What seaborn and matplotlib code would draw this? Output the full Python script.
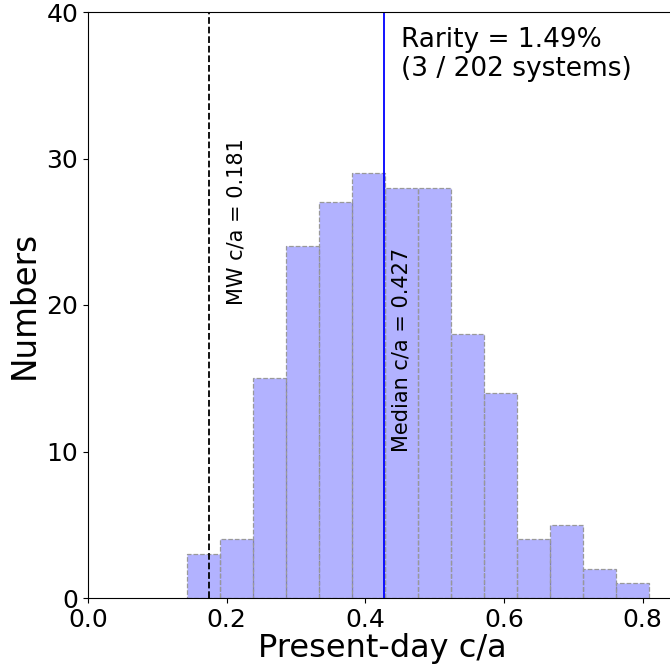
import matplotlib
matplotlib.use("Agg")
import matplotlib.pyplot as plt
import seaborn as sns
import numpy as np

# Histogram data
bin_start = 0.1423
bin_width = 0.04766
counts = [3, 4, 15, 24, 27, 29, 28, 28, 18, 14, 4, 5, 2, 1]
mw_value = 0.181
mw_line_x = 0.175
median_value = 0.427
rarity_text = "Rarity = 1.49%\n(3 / 202 systems)"

edges = [bin_start + i * bin_width for i in range(len(counts) + 1)]
centers = [(edges[i] + edges[i + 1]) / 2 for i in range(len(counts))]

fig = plt.figure(figsize=(6.70, 6.66), dpi=100)
ax = fig.add_axes([88 / 670, 68 / 666, 589.3 / 670, 586 / 666])

sns.histplot(x=centers, weights=counts, bins=edges, ax=ax,
             facecolor=(0.0, 0.0, 1.0, 0.3), edgecolor="#999999",
             linestyle="--", linewidth=0.9, alpha=None)

ax.axvline(mw_line_x, color="black", linestyle="--", linewidth=1.3)
ax.axvline(median_value, color="blue", linestyle="-", linewidth=1.3)

ax.text(0.2135, 20, f"MW c/a = {mw_value}", rotation=90, ha="center",
        va="bottom", fontsize=15)
ax.text(0.4525, 10, f"Median c/a = {median_value}", rotation=90,
        ha="center", va="bottom", fontsize=15)
ax.text(0.4515, 38.95, rarity_text, ha="left", va="top", fontsize=19,
        linespacing=1.12)

ax.set_xlim(0, 0.85)
ax.set_ylim(0, 40)
ax.set_xticks([0.0, 0.2, 0.4, 0.6, 0.8])
ax.set_yticks([0, 10, 20, 30, 40])
ax.tick_params(labelsize=18)
ax.set_xlabel("Present-day c/a", fontsize=23, labelpad=1)
ax.set_ylabel("Numbers", fontsize=23.5)

fig.savefig("out.png", dpi=100)
